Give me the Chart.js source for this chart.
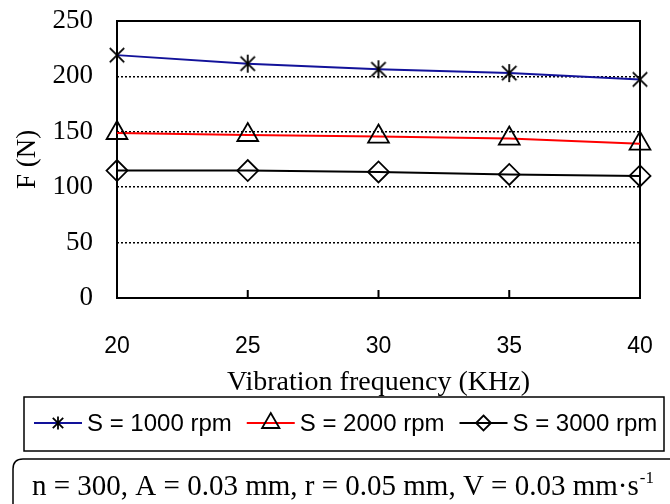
<!DOCTYPE html>
<html>
<head>
<meta charset="utf-8">
<script src="https://cdn.jsdelivr.net/npm/chart.js@4/dist/chart.umd.min.js"></script>
<style>
  html, body { margin: 0; padding: 0; background: #ffffff; }
  #c { display: block; }
</style>
</head>
<body>
<canvas id="c" width="670" height="504"></canvas>
<script>
// ---- data ----
const xValues = [20, 25, 30, 35, 40];
const s1000 = [219.2, 211.5, 206.4, 203.0, 197.3];
const s2000 = [148.9, 147.1, 145.7, 143.9, 139.3];
const s3000 = [115.0, 115.0, 113.8, 111.5, 110.2];
const seriesLabels = ['S = 1000 rpm', 'S = 2000 rpm', 'S = 3000 rpm'];
const xTicks = [20, 25, 30, 35, 40];
const yTicks = [0, 50, 100, 150, 200, 250];
const xTitle = 'Vibration frequency (KHz)';
const yTitle = 'F (N)';
const noteText = 'n = 300, A = 0.03 mm, r = 0.05 mm, V = 0.03 mm\u00B7s';
const noteSup = '-1';

const SERIF = "'Liberation Serif', 'Times New Roman', serif";
const SANS = "'Liberation Sans', Arial, sans-serif";

function asteriskImage(r) {
  const size = Math.ceil(r * 2 + 4);
  const c = document.createElement('canvas');
  c.width = size; c.height = size;
  const g = c.getContext('2d');
  const m = size / 2;
  const d = r * 0.8;
  g.strokeStyle = '#000';
  g.lineWidth = 1.8;
  g.beginPath();
  g.moveTo(m - d, m - d); g.lineTo(m + d, m + d);
  g.moveTo(m - d, m + d); g.lineTo(m + d, m - d);
  g.moveTo(m, m - r); g.lineTo(m, m + r);
  g.stroke();
  return c;
}

function drawMarker(ctx, kind, x, y, r) {
  ctx.save();
  ctx.strokeStyle = '#000';
  ctx.lineWidth = 1.8;
  ctx.beginPath();
  if (kind === 'asterisk') {
    const d = r * 0.8;
    ctx.moveTo(x - d, y - d); ctx.lineTo(x + d, y + d);
    ctx.moveTo(x - d, y + d); ctx.lineTo(x + d, y - d);
    ctx.moveTo(x, y - r); ctx.lineTo(x, y + r);
  } else if (kind === 'triangle') {
    const h = r * 0.866;
    ctx.moveTo(x, y - r);
    ctx.lineTo(x + h, y + r / 2);
    ctx.lineTo(x - h, y + r / 2);
    ctx.closePath();
  } else if (kind === 'diamond') {
    ctx.moveTo(x, y - r); ctx.lineTo(x + r, y);
    ctx.lineTo(x, y + r); ctx.lineTo(x - r, y);
    ctx.closePath();
  }
  ctx.stroke();
  ctx.restore();
}

const toPoints = arr => xValues.map((x, i) => ({ x: x, y: arr[i] }));

const datasets = [
  {
    label: seriesLabels[0], data: toPoints(s1000),
    borderColor: '#12129a', borderWidth: 2,
    pointStyle: asteriskImage(9), pointRadius: 9, pointHoverRadius: 9,
    legendMarker: 'asterisk', legendMarkerSize: 6.5
  },
  {
    label: seriesLabels[1], data: toPoints(s2000),
    borderColor: '#ff0000', borderWidth: 2,
    pointStyle: 'triangle', pointRadius: 12, pointHoverRadius: 12,
    pointBorderColor: '#000', pointBackgroundColor: 'rgba(0,0,0,0)', pointBorderWidth: 1.8,
    legendMarker: 'triangle', legendMarkerSize: 10
  },
  {
    label: seriesLabels[2], data: toPoints(s3000),
    borderColor: '#000000', borderWidth: 2,
    pointStyle: 'rectRot', pointRadius: 10.5, pointHoverRadius: 10.5,
    pointBorderColor: '#000', pointBackgroundColor: 'rgba(0,0,0,0)', pointBorderWidth: 1.8,
    legendMarker: 'diamond', legendMarkerSize: 7.5
  }
];
datasets.forEach(d => { d.tension = 0; d.clip = false; d.fill = false; });

const framePlugin = {
  id: 'frame',
  beforeDatasetsDraw(chart) {
    const { ctx, chartArea: a } = chart;
    const xs = chart.scales.x;
    ctx.save();
    ctx.strokeStyle = '#000';
    ctx.lineWidth = 2;
    ctx.strokeRect(a.left, a.top, a.right - a.left, a.bottom - a.top);
    ctx.beginPath();
    xTicks.forEach(v => {
      const px = xs.getPixelForValue(v);
      ctx.moveTo(px, a.bottom);
      ctx.lineTo(px, a.bottom - 8);
    });
    ctx.stroke();
    ctx.restore();
  }
};

const extrasPlugin = {
  id: 'extras',
  afterDraw(chart) {
    const ctx = chart.ctx;
    ctx.save();
    // legend box
    ctx.strokeStyle = '#000';
    ctx.lineWidth = 1.5;
    ctx.strokeRect(24, 397, 640, 54);
    ctx.font = '24px ' + SANS;
    ctx.textBaseline = 'middle';
    ctx.textAlign = 'left';
    ctx.fillStyle = '#000';
    const ly = 423;
    let x = 34;
    chart.data.datasets.forEach(ds => {
      ctx.strokeStyle = ds.borderColor;
      ctx.lineWidth = 2;
      ctx.beginPath();
      ctx.moveTo(x, ly); ctx.lineTo(x + 48, ly);
      ctx.stroke();
      drawMarker(ctx, ds.legendMarker, x + 24, ly, ds.legendMarkerSize);
      const tx = x + 53;
      ctx.fillStyle = '#000';
      ctx.fillText(ds.label, tx, ly + 1);
      x = tx + ctx.measureText(ds.label).width + 15;
    });
    // note box (rounded, running off the right/bottom edges)
    ctx.strokeStyle = '#000';
    ctx.lineWidth = 1.5;
    const bx = 13, by = 459, rr = 10;
    ctx.beginPath();
    ctx.moveTo(bx, 520);
    ctx.lineTo(bx, by + rr);
    ctx.quadraticCurveTo(bx, by, bx + rr, by);
    ctx.lineTo(700, by);
    ctx.stroke();
    ctx.font = '29px ' + SERIF;
    ctx.textBaseline = 'alphabetic';
    ctx.fillStyle = '#000';
    ctx.fillText(noteText, 32, 495);
    const w = ctx.measureText(noteText).width;
    ctx.font = '17px ' + SERIF;
    ctx.fillText(noteSup, 32 + w + 1, 483);
    ctx.restore();
  }
};

new Chart(document.getElementById('c'), {
  type: 'line',
  data: { datasets: datasets },
  plugins: [framePlugin, extrasPlugin],
  options: {
    responsive: false,
    animation: false,
    events: [],
    layout: { autoPadding: false, padding: { top: 21, right: 30, left: 0, bottom: 0 } },
    plugins: { legend: { display: false }, tooltip: { enabled: false } },
    scales: {
      x: {
        type: 'linear', min: 20, max: 40,
        afterBuildTicks: s => { s.ticks = xTicks.map(v => ({ value: v })); },
        afterFit: s => { s.height = 206; s.paddingLeft = 0; s.paddingRight = 0; },
        grid: { display: false, drawTicks: false, tickLength: 0 },
        border: { display: false },
        ticks: { font: { family: SANS, size: 23 }, color: '#000', padding: 35, maxRotation: 0 },
        title: { display: true, text: xTitle, color: '#000',
                 font: { family: SERIF, size: 28 }, padding: { top: 0, bottom: 105 } }
      },
      y: {
        min: 0, max: 250,
        afterBuildTicks: s => { s.ticks = yTicks.map(v => ({ value: v })); },
        afterFit: s => { s.width = 117; s.paddingTop = 0; s.paddingBottom = 0; },
        grid: {
          drawTicks: false, tickLength: 0, lineWidth: 1.5,
          color: c => (c.tick && (c.tick.value === 0 || c.tick.value === 250)) ? 'rgba(0,0,0,0)' : '#000'
        },
        border: { display: false, dash: [2, 2] },
        ticks: { font: { family: SERIF, size: 27 }, color: '#000', padding: 24 },
        title: { display: true, text: yTitle, color: '#000',
                 font: { family: SERIF, size: 27 }, padding: { top: 12, bottom: 0 } }
      }
    }
  }
});
</script>
</body>
</html>
